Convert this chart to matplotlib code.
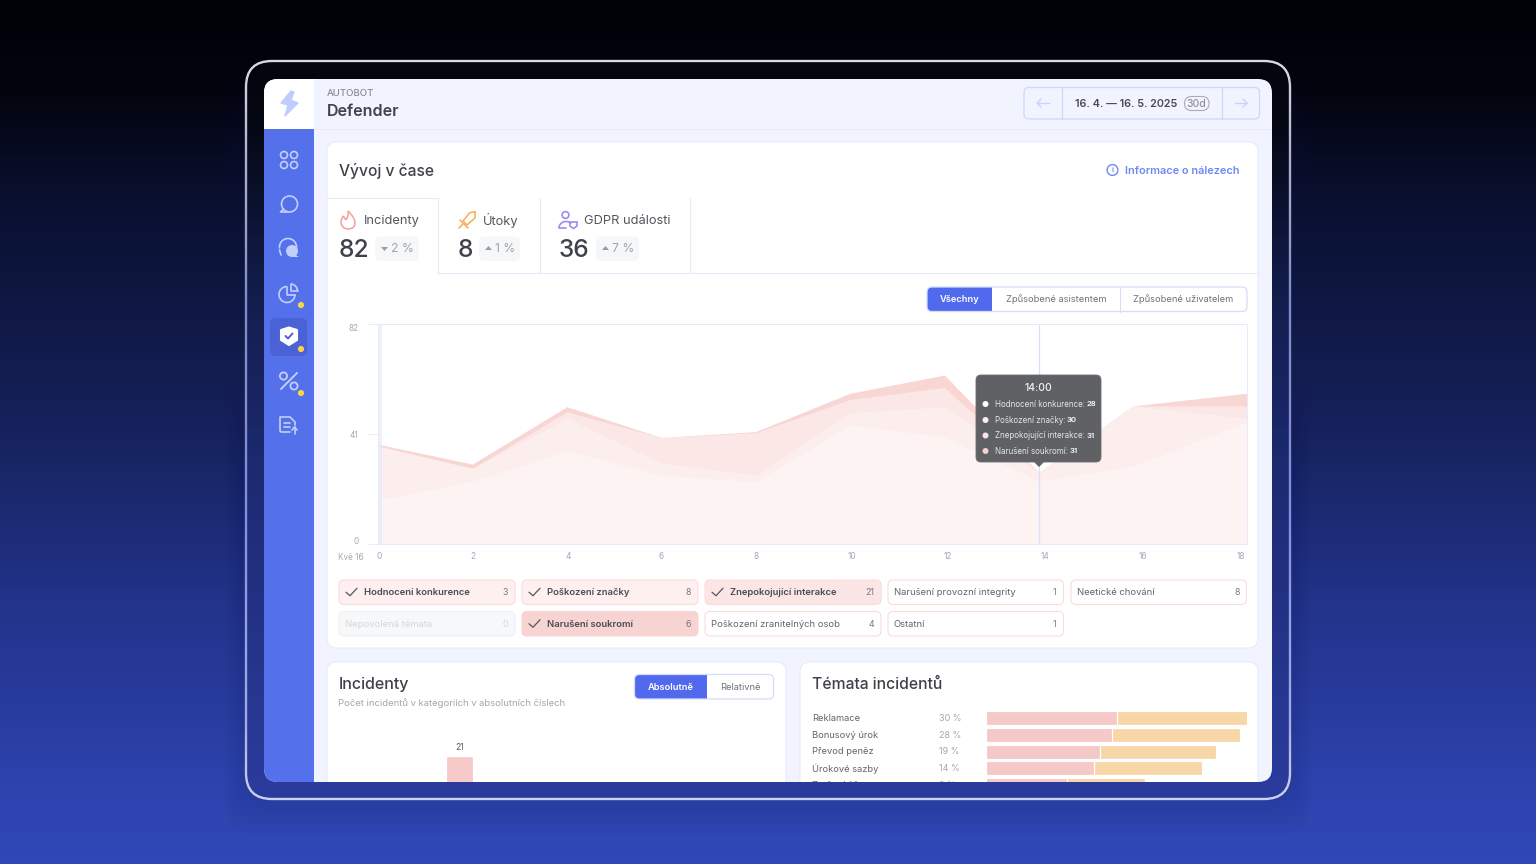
import matplotlib
matplotlib.use('Agg')
import matplotlib.pyplot as plt
import numpy as np
from matplotlib.colors import to_hex
from matplotlib.patches import FancyBboxPatch, Rectangle, Circle, Polygon, Arc, PathPatch
from matplotlib.path import Path
from matplotlib.text import Text

plt.rcParams['font.family'] = ['Inter', 'DejaVu Sans']

# area chart, cumulative tops of the four layers
hours = [0, 2, 4, 6, 8, 10, 12, 14, 16, 18.4]
layer_top = [37.3, 29.9, 51.3, 39.8, 42.0, 56.3, 63.1, 26.8, 51.6, 56.3]
layer_third = [36.6, 28.3, 49.4, 39.8, 41.6, 54.0, 58.5, 26.8, 51.6, 51.6]
layer_second = [36.6, 28.3, 47.0, 30.4, 25.8, 49.1, 51.3, 26.8, 51.6, 47.0]
layer_base = [16.5, 23.6, 34.9, 25.8, 23.4, 44.5, 40.1, 23.7, 29.2, 45.6]
layer_colors = ['#f7d6d3', '#fae7e6', '#fbeeed', '#fdf3f2']
hour_ticks = [0.03, 2.02, 4.02, 6.0, 8.0, 10.05, 12.08, 14.13, 16.2, 18.27]
hour_labels = ['0', '2', '4', '6', '8', '10', '12', '14', '16', '18']
y_ticks = [0, 41, 82]

# stat tabs
tab_names = ['Incidenty', 'Útoky', 'GDPR události']
tab_totals = ['82', '8', '36']
tab_deltas = ['2 %', '1 %', '7 %']

# filter chips
chip_names = ['Hodnocení konkurence', 'Poškození značky', 'Znepokojující interakce',
              'Narušení provozní integrity', 'Neetické chování',
              'Nepovolená témata', 'Narušení soukromí', 'Poškození zranitelných osob', 'Ostatní']
chip_counts = [3, 8, 21, 1, 8, 0, 6, 4, 1]

# tooltip
tip_names = ['Hodnocení konkurence', 'Poškození značky', 'Znepokojující interakce', 'Narušení soukromí']
tip_values = [28, 30, 31, 31]

# bottom cards
bar_value = [21]
topics = ['Reklamace', 'Bonusový úrok', 'Převod peněz', 'Úrokové sazby', 'Zrušení účtu']
topic_share = ['30 %', '28 %', '19 %', '14 %', '9 %']
topic_pink = [49.6, 47.8, 43.2, 40.9, 30.2]
topic_orange = [49.8, 48.2, 43.5, 40.7, 29.4]

W, H = 1536, 864
TEXT = '#3f4249'
GREY = '#6f727a'
LIGHT = '#a3a6ad'
LINE = '#e6eafd'
ICON = '#c3cffb'

fig = plt.figure(figsize=(W / 100, H / 100), dpi=100)


def pixel_axes(z):
    a = fig.add_axes([0, 0, 1, 1], zorder=z)
    a.set_xlim(0, W)
    a.set_ylim(H, 0)
    a.axis('off')
    a.patch.set_alpha(0)
    return a


def box_axes(x0, y0, x1, y1, z):
    return fig.add_axes([x0 / W, 1 - y1 / H, (x1 - x0) / W, (y1 - y0) / H], zorder=z)


def rrect(a, x0, y0, x1, y1, r=4, fc='none', ec='none', lw=1, alpha=None):
    p = FancyBboxPatch((x0, y0), x1 - x0, y1 - y0, boxstyle=f'round,pad=0,rounding_size={r}',
                       fc=fc, ec=ec, lw=lw, alpha=alpha)
    a.add_patch(p)
    return p


def txt(a, x, y, s, size=8, color=TEXT, weight='normal', ha='left', va='center_baseline'):
    return a.text(x, y - 0.7, s, fontsize=size * 0.72, color=color, fontweight=weight, ha=ha, va=va)


def stroke(a, pts, color=ICON, lw=1.2):
    xs, ys = zip(*pts)
    a.plot(xs, ys, color=color, lw=lw, solid_capstyle='round', solid_joinstyle='round')


def segmented(a, x0, y0, x1, y1, splits, label_xs, labels):
    rrect(a, x0, y0, x1, y1, 5, fc='white')
    rrect(a, x0, y0, splits[0] + 6, y1, 5, fc='#5169ec')
    a.add_patch(Rectangle((splits[0], y0 - 0.5), 7, y1 - y0 + 1, fc='white', ec='none'))
    for sx in splits[1:]:
        a.plot([sx, sx], [y0, y1], color='#d5ddfb', lw=0.8)
    rrect(a, x0, y0, x1, y1, 5, ec='#d5ddfb', lw=0.9)
    for i, (lx, lb) in enumerate(zip(label_xs, labels)):
        txt(a, lx, (y0 + y1) / 2, lb, 9.3, 'white' if i == 0 else GREY,
            'semibold' if i == 0 else 'normal', ha='center')


# page background and device frame
bg = pixel_axes(0)
rows = np.arange(H)
stops_y = [0, 90, 200, 400, 600, 800, 864]
stops_r = [0, 3, 10, 20, 34, 46, 48]
stops_g = [1, 4, 16, 31, 51, 68, 72]
stops_b = [6, 14, 48, 85, 138, 176, 184]
grad = np.stack([np.interp(rows, stops_y, c) for c in (stops_r, stops_g, stops_b)], axis=1) / 255
bg.imshow(grad[:, None, :], extent=(0, W, H, 0), aspect='auto', zorder=0)
bg.set_xlim(0, W)
bg.set_ylim(H, 0)

for i in range(8):
    rrect(bg, 246 - i * 3, 61 + 20, 1290 + i * 3, 799 + i * 5, 28, fc='#141c58', alpha=0.025)

frame = rrect(bg, 246, 61, 1290, 799, 26, fc='none')
stops_fy = [60, 120, 300, 500, 800]
frame_grad = np.stack([np.interp(rows, stops_fy, c) for c in
                       ([3, 5, 19, 30, 44], [4, 7, 30, 44, 60], [12, 18, 78, 118, 158])], axis=1) / 255
fi = bg.imshow(frame_grad[:, None, :], extent=(0, W, H, 0), aspect='auto', zorder=1)
fi.set_clip_path(frame)
bg.set_xlim(0, W)
bg.set_ylim(H, 0)

# rim fades from silver at the top through lavender, cut in thin bands
rim_y = [61, 150, 300, 500, 720, 799]
rim_r = [216, 176, 127, 127, 160, 208]
rim_g = [218, 180, 140, 143, 172, 213]
rim_b = [226, 200, 196, 220, 232, 240]
for y0 in range(50, 810, 6):
    col = to_hex([np.interp(y0, rim_y, c) / 255 for c in (rim_r, rim_g, rim_b)])
    rim = rrect(bg, 246, 61, 1290, 799, 26, ec=col, lw=1.7)
    rim.set_zorder(2)
    rim.set_clip_path(Rectangle((0, y0), W, 6, transform=bg.transData))

screen = rrect(bg, 264, 79, 1272, 782, 14, fc='#f1f4fe')
screen.set_zorder(4)

# screen content
ui = pixel_axes(1)

ui.add_patch(Rectangle((264, 129), 50, 660, fc='#5470ea', ec='none'))
ui.add_patch(Rectangle((264, 75), 50, 54, fc='white', ec='none'))
ui.plot([314, 1272], [129, 129], color='#e8ecfc', lw=0.8)
ui.add_patch(Polygon([(291, 91), (281, 103), (288, 105), (285, 116), (298, 103), (291, 100), (294, 92)],
                     closed=True, fc='#c0cdfb', ec='#c0cdfb', lw=1, joinstyle='round'))

# sidebar icons
for dx in (-5, 5):
    for dy in (-5, 5):
        ui.add_patch(Circle((289 + dx, 160 + dy), 3.5, fc='none', ec=ICON, lw=1.2))
ui.add_patch(Circle((289.5, 204), 8, fc='none', ec=ICON, lw=1.2))
stroke(ui, [(283.5, 209), (280.5, 212), (288, 212)])
ui.add_patch(Arc((288, 247), 17, 17, theta1=170, theta2=20, ec=ICON, lw=1.2))
stroke(ui, [(281, 255), (279.5, 250)])
ui.add_patch(Circle((292, 251), 6, fc=ICON, ec='none'))
ui.add_patch(Polygon([(294, 254), (299, 257), (292, 257)], fc=ICON, ec='none'))
ui.add_patch(Arc((287, 294.5), 16, 16, theta1=0, theta2=270, ec=ICON, lw=1.2))
stroke(ui, [(287, 286.5), (287, 294.5), (295, 294.5)])
ui.add_patch(Arc((290.5, 291), 14, 14, theta1=275, theta2=360, ec=ICON, lw=1.2))
stroke(ui, [(291, 284), (291, 291), (297.5, 291)])

rrect(ui, 270, 318, 307, 356, 6, fc='#4a62d6')
ui.add_patch(Polygon([(281, 330), (289, 327.5), (297, 330), (297, 340), (289, 345), (281, 340)],
                     fc='white', ec='white', lw=1.5, joinstyle='round'))
stroke(ui, [(285.5, 336), (288, 338.5), (292.5, 333.5)], '#4a62d6', 1.4)
stroke(ui, [(297, 373), (281, 389)], ICON, 1.4)
ui.add_patch(Circle((283.5, 376), 3.6, fc='none', ec=ICON, lw=1.3))
ui.add_patch(Circle((294, 386), 3.6, fc='none', ec=ICON, lw=1.3))
stroke(ui, [(290, 432), (281, 432), (280, 431), (280, 417), (290, 417), (295, 422), (295, 425)])
stroke(ui, [(284, 423), (290, 423)])
stroke(ui, [(284, 427), (290, 427)])
stroke(ui, [(294.5, 434), (294.5, 427)])
stroke(ui, [(292, 430), (294.5, 427), (297, 430)])
for dot_y in (305, 349, 393):
    ui.add_patch(Circle((301, dot_y), 3.1, fc='#f9d14c', ec='none'))

# header
txt(ui, 326.5, 93.5, 'AUTOBOT', 9.6, '#878a92', 'medium')
txt(ui, 326.5, 110.5, 'Defender', 16, TEXT, 'semibold')
rrect(ui, 1024, 87.5, 1259.5, 119, 5, ec='#cdd7fb', lw=0.9)
for sx in (1062, 1222):
    ui.plot([sx, sx], [87.5, 119], color='#cdd7fb', lw=0.9)
stroke(ui, [(1049, 103), (1037, 103)], '#c7d3fb', 1)
stroke(ui, [(1041, 99), (1037, 103), (1041, 107)], '#c7d3fb', 1)
stroke(ui, [(1235, 103), (1247, 103)], '#c7d3fb', 1)
stroke(ui, [(1243, 99), (1247, 103), (1243, 107)], '#c7d3fb', 1)
txt(ui, 1075, 103.8, '16. 4. — 16. 5. 2025', 10.8, '#474a52', 'semibold')
rrect(ui, 1184.5, 96.5, 1209, 110.5, 7, ec='#a9acb3', lw=0.8)
txt(ui, 1196.8, 103.8, '30d', 10.4, '#8e9198', 'medium', ha='center')

# main card
rrect(ui, 327, 142, 1258, 648, 10, fc='white', ec='#e8ecfc', lw=0.8)
txt(ui, 339, 170, 'Vývoj v čase', 15.6, TEXT, 'medium')
ui.add_patch(Circle((1112.5, 170), 5.4, fc='none', ec='#7089f2', lw=1))
txt(ui, 1112.5, 170.7, 'i', 7.5, '#7089f2', 'semibold', ha='center')
txt(ui, 1125, 170.7, 'Informace o nálezech', 11, '#7089f2', 'semibold')

# stat tabs
ui.plot([438, 1258], [273, 273], color=LINE, lw=0.8)
ui.plot([327, 438], [198, 198], color=LINE, lw=0.8)
for sx in (438, 539.5, 689.5):
    ui.plot([sx, sx], [198, 273], color=LINE, lw=0.8)
name_x = [364, 483, 584]
total_x = [339, 458, 559]
chip_x = [(375, 419), (479, 520), (596, 639)]
for i in range(3):
    txt(ui, name_x[i], 220, tab_names[i], 12.9, '#54575e')
    txt(ui, total_x[i], 249, tab_totals[i], 24.5, TEXT, 'medium')
    c0, c1 = chip_x[i]
    rrect(ui, c0, 236.5, c1, 261, 5, fc='#f6f7f9')
    if i == 0:
        ui.add_patch(Polygon([(381, 247), (388, 247), (384.5, 251)], fc='#9a9da4', ec='none'))
    else:
        ui.add_patch(Polygon([(c0 + 6, 250), (c0 + 13, 250), (c0 + 9.5, 246)], fc='#9a9da4', ec='none'))
    txt(ui, c0 + 16, 248.5, tab_deltas[i], 12.2, '#a0a3aa')

# flame
flame = Path([(348, 211), (352, 215), (355, 219), (355, 223),
              (355, 227), (352, 229), (348, 229),
              (344, 229), (341, 226), (341, 222),
              (341, 220), (342, 218), (343.5, 216),
              (344, 218), (345, 219), (346, 219.5),
              (348, 217), (348.5, 214), (348, 211)],
             [Path.MOVETO] + [Path.CURVE4] * 18)
ui.add_patch(PathPatch(flame, fc='none', ec='#f3a09e', lw=1.1))
# sword
stroke(ui, [(475, 212), (470, 212.5), (463, 221), (467, 225), (475, 218), (475, 212)], '#f5b25f', 1.2)
stroke(ui, [(460, 220), (468, 228)], '#f5b25f', 1.2)
stroke(ui, [(463, 224), (459, 228)], '#f5b25f', 1.2)
# person with shield
ui.add_patch(Circle((565.5, 215), 3.4, fc='none', ec='#9b8cf2', lw=1.2))
ui.add_patch(Arc((566, 228), 14, 13, theta1=180, theta2=320, ec='#9b8cf2', lw=1.2))
stroke(ui, [(559, 228), (566, 228)], '#9b8cf2', 1.2)
ui.add_patch(Polygon([(570, 222), (577, 222), (577, 226), (573.5, 228.5), (570, 226)], fc='none', ec='#9b8cf2', lw=1.2))

segmented(ui, 927, 287, 1247, 311.5, [992, 1119.5], [959.5, 1056, 1183],
          ['Všechny', 'Způsobené asistentem', 'Způsobené uživatelem'])

# filter chips
chip_cols = [339, 522, 705, 888, 1071]
chip_w = [176, 176, 176, 175.5, 175.5]
chip_rows = [(580, 604.5), (611.5, 636)]
for i, name in enumerate(chip_names):
    col = i % 5
    y0, y1 = chip_rows[i // 5]
    x0 = chip_cols[col]
    x1 = x0 + chip_w[col]
    ym = (y0 + y1) / 2
    checked = i in (0, 1, 2, 6)
    if name == 'Nepovolená témata':
        rrect(ui, x0, y0, x1, y1, 5, fc='#f7f8f9', ec='#eff0f2', lw=0.8)
        txt(ui, x0 + 6, ym, name, 9.45, '#d5d7da')
        txt(ui, x1 - 7, ym, str(chip_counts[i]), 8.8, '#d5d7da', ha='right')
        continue
    if name == 'Narušení soukromí':
        rrect(ui, x0, y0, x1, y1, 5, fc='#f7d3d1', ec='#f7d3d1', lw=0.8)
    elif checked:
        shade = '#fdf0ef' if i < 2 else '#fbe6e5'
        rrect(ui, x0, y0, x1, y1, 5, fc=shade, ec='#fbdcda', lw=0.8)
    else:
        rrect(ui, x0, y0, x1, y1, 5, fc='white', ec='#fbdcda', lw=0.8)
    if checked:
        stroke(ui, [(x0 + 7, ym), (x0 + 11, ym + 3.5), (x0 + 18, ym - 4)], '#53565d', 0.9)
        txt(ui, x0 + 25, ym, name, 9.45, '#4a4d54', 'semibold')
    else:
        txt(ui, x0 + 6, ym, name, 9.45, '#62656c')
    txt(ui, x1 - 7, ym, str(chip_counts[i]), 8.8, '#75787f', ha='right')

# bottom cards
rrect(ui, 327, 662, 786, 800, 10, fc='white', ec='#e8ecfc', lw=0.8)
rrect(ui, 800, 662, 1258, 800, 10, fc='white', ec='#e8ecfc', lw=0.8)
txt(ui, 338.5, 684, 'Incidenty', 16, TEXT, 'medium')
txt(ui, 338.5, 702.5, 'Počet incidentů v kategoriích v absolutních číslech', 9.45, LIGHT)
segmented(ui, 634.5, 674.5, 773.5, 699, [707], [670.5, 740], ['Absolutně', 'Relativně'])
txt(ui, 812, 684, 'Témata incidentů', 15.7, TEXT, 'medium')
row_y = [718.3, 735, 751.3, 768, 785]
for i, name in enumerate(topics):
    txt(ui, 812, row_y[i], name, 9.3, '#62656c')
    txt(ui, 939, row_y[i], topic_share[i], 9, LIGHT)

# area chart
ax = box_axes(378, 324.3, 1246.5, 544.3, 2)
fills = [layer_top, layer_third, layer_second, layer_base]
for vals, col in zip(fills, layer_colors):
    ax.fill_between(hours, 0, vals, color=col, lw=0)
ax.axvspan(0, 0.08, color='#e6eafd', alpha=0.7, lw=0)
ax.axvline(14, color='#d9e0fb', lw=0.9)
ax.set_xlim(0, 18.4)
ax.set_ylim(0, 82)
ax.set_xticks(hour_ticks, hour_labels)
ax.set_yticks(y_ticks)
ax.tick_params(axis='x', length=0, pad=5.5, labelsize=6, labelcolor='#a5a8af')
ax.tick_params(axis='y', length=7, width=0.7, color=LINE, pad=7, labelsize=6, labelcolor='#a5a8af')
ax.get_yticklabels()[0].set_verticalalignment('baseline')
ax.get_yticklabels()[2].set_verticalalignment('top')
for s in ax.spines.values():
    s.set_color(LINE)
    s.set_linewidth(0.7)
txt(ui, 364, 556.7, 'Kvě 16', 8.2, '#a5a8af', ha='right')

# incident bar, cut by the screen edge
ax_bar = box_axes(327, 740, 786, 782, 2)
ax_bar.bar([0], bar_value, width=0.0545, color='#f7c9c8', edgecolor='#f7c9c8', lw=0.5)
ax_bar.set_xlim(-0.2885, 0.7115)
ax_bar.set_ylim(12.67, 26.67)
ax_bar.axis('off')
ax_bar.patch.set_alpha(0)
ax_bar.text(0, bar_value[0] + 3.3, str(bar_value[0]), fontsize=6.1, color='#55585f', ha='center', va='center')

# topic bars
ax_topics = box_axes(987, 710, 1247, 782, 2)
row_pos = np.arange(len(topics))
bars_a = ax_topics.barh(row_pos, topic_pink, height=0.72, color='#f6c9c9', edgecolor='#f6c9c9', lw=0.6)
bars_b = ax_topics.barh(row_pos, topic_orange, left=np.array(topic_pink) + 0.8, height=0.72,
                        color='#f7d7a8', edgecolor='#f7d7a8', lw=0.6)
for b in list(bars_a) + list(bars_b):
    b.set_joinstyle('round')
ax_topics.set_xlim(0, 100)
ax_topics.set_ylim((782 - 718.3) / 16.65, (710 - 718.3) / 16.65)
ax_topics.axis('off')
ax_topics.patch.set_alpha(0)

# tooltip on top of the chart
top = pixel_axes(3)
top.add_patch(Polygon([(1033, 461), (1045, 461), (1039, 467)], fc='#5f6165', ec='none'))
rrect(top, 976, 375, 1101, 462, 5, fc='#5f6165', ec='#6b6d71', lw=0.6)
txt(top, 1038, 387.5, '14:00', 10.3, '#f4f4f5', 'medium', ha='center')
tip_y = [404, 420, 435.5, 451]
tip_dot = ['#ffffff', '#fdeeee', '#fbe3e2', '#f7cfcd']
for yy, name, val, dc in zip(tip_y, tip_names, tip_values, tip_dot):
    top.add_patch(Circle((985.5, yy), 3, fc=dc, ec='none'))
    t = txt(top, 995, yy, f'{name}:', 8, '#e6e6e8')
    top.annotate(str(val), xy=(1, 0.5), xycoords=t, xytext=(1, 0), textcoords='offset points',
                 fontsize=5.6, color='white', fontweight='semibold', va='center')

# keep everything inside the rounded screen, text only takes a box clip
screen_box = Rectangle((264, 79), 1008, 703, transform=ui.transData)
for a in (ui, ax_bar, ax_topics):
    for art in a.get_children():
        if a is not ui and art in a.spines.values():
            continue
        art.set_clip_on(True)
        if isinstance(art, Text):
            art.set_clip_path(screen_box)
        else:
            art.set_clip_path(screen)

fig.savefig('out.png', dpi=100)
